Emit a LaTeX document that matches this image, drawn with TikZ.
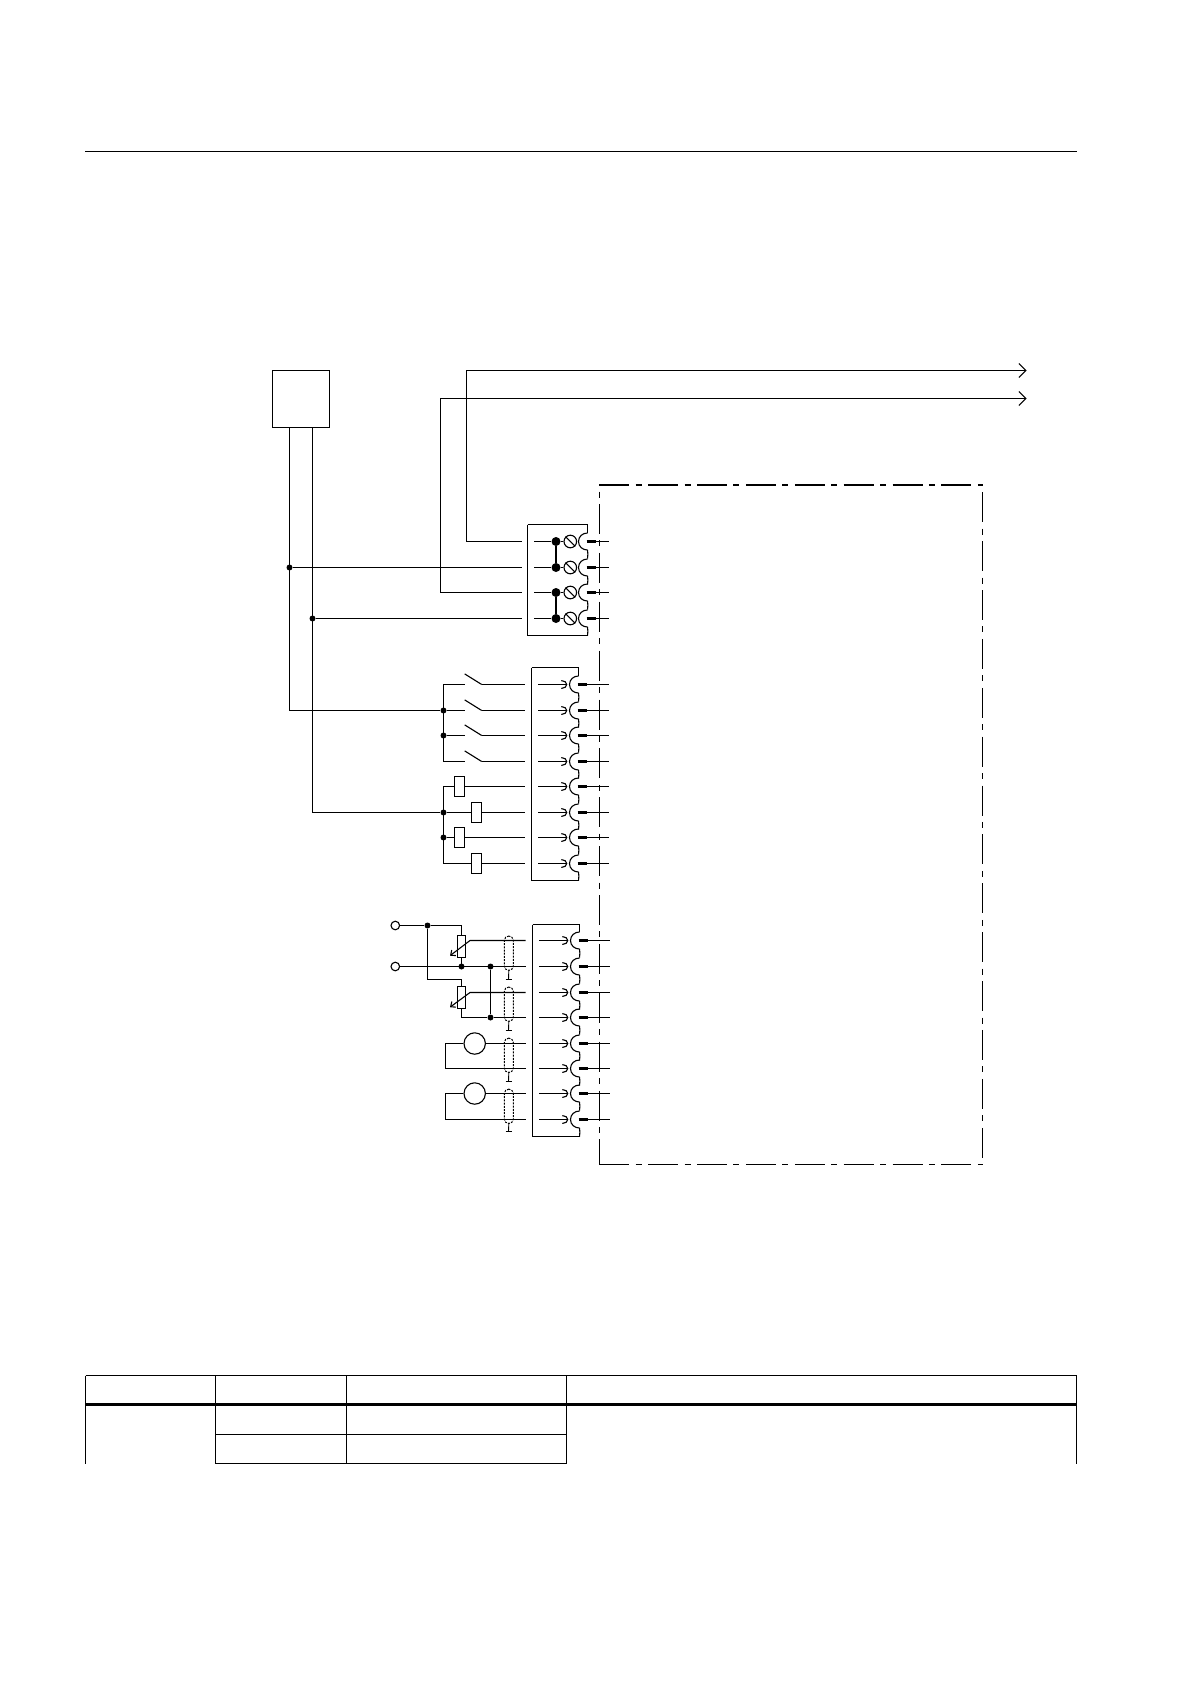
\documentclass[tikz,border=0pt]{standalone}
\usetikzlibrary{arrows.meta,positioning}
\tikzset{
    wire/.style={line width=1.1pt},
    rule/.style={line width=1.4pt},
    heavyrule/.style={line width=3.2pt},
    edge/.style={line width=1.1pt,dash pattern=on 30pt off 6.4pt on 6pt off 6.48pt},
    dot/.style={fill,circle,inner sep=0pt,minimum size=6pt},
    bigdot/.style={fill,circle,inner sep=0pt,minimum size=9pt},
    screw/.style={draw,wire,circle,inner sep=0pt,minimum size=12.6pt},
    port/.style={draw,wire,circle,inner sep=0pt,minimum size=8.6pt},
    source/.style={draw,wire,circle,inner sep=0pt,minimum size=21.4pt},
    relay/.style={draw,wire,rectangle,inner sep=0pt,minimum width=10.4pt,minimum height=20.6pt},
    pot/.style={draw,wire,rectangle,inner sep=0pt,minimum width=8.4pt,minimum height=22.4pt},
    shield/.style={draw,line width=1pt,dash pattern=on 2pt off 1.2pt,rectangle,rounded corners=4.4pt,inner sep=0pt,minimum width=9pt,minimum height=34.3pt},
    supply/.style={draw,wire,rectangle,inner sep=0pt,minimum size=57pt},
    socket/.pic={
        \draw[wire] (0,-8.5) .. controls (-5,-8.5) and (-9,-5) .. (-9,0) .. controls (-9,5) and (-5,8.5) .. (0,8.5);
        \draw[wire] (0,8.5) .. controls (0.5,11) and (0.5,14.5) .. (0,17.1);
        \draw[line width=#1] (-1,0) -- (8,0);
        \coordinate (-stub) at (8,0);
    }
}
\begin{document}
\begin{tikzpicture}[x=1pt,y=-1pt]
    \useasboundingbox (0,0) rectangle (1191,1684);
    \draw[rule] (85,151.5) -- (1077.3,151.5);

    \node[supply] (ps) at (301,399) {};
    \coordinate (pl) at (289.5,427.5);
    \coordinate (pr) at (312.5,427.5);
    \coordinate (cn0) at (466.5,541.5);
    \coordinate (cn1) at (466.5,370.5);
    \coordinate (cn2) at (440.5,592.5);
    \coordinate (cn3) at (440.5,398.5);
    \coordinate (tr1) at (1026.7,370.5);
    \coordinate (tr2) at (1026.7,398.5);

    \draw[edge,line width=2pt] (599.3,485) -- (983,485);
    \draw[edge,dash phase=36.4pt] (599.5,491.5) -- (599.5,1164.5);
    \draw[edge] (599.3,1164.5) -- (983,1164.5);
    \draw[edge] (982.5,492.3) -- (982.5,1157.7);

    \foreach \n/\y/\w in {1/541.5/3.4pt,2/567.5/2.3pt,3/592.5/3.4pt,4/618.5/2.3pt}{
        \pic (a\n) at (587.5,\y) {socket=\w};
        \coordinate (ae\n) at (609,\y);
        \draw[wire] (a\n-stub) -- (ae\n);
        \coordinate (al\n) at (521.7,\y);
        \coordinate (ai\n) at (534,\y);
        \node[bigdot] (ad\n) at (556,\y) {};
        \node[screw] (as\n) at (570.3,\y) {};
        \draw[wire] (ai\n) -- (ad\n);
        \draw[wire] (ad\n) -- (as\n);
        \draw[wire] (as\n.north west) -- (as\n.south east);
    }
    \draw[wire] (527.5,524.5) -- (587.5,524.5) -- (587.5,533);
    \draw[wire] (527.5,524.5) -- (527.5,635.5) -- (587.5,635.5);
    \draw[line width=1.8pt] (ad1) -- (ad2);
    \draw[line width=1.8pt] (ad3) -- (ad4);

    \node[dot] (ja) at (289.5,567.5) {};
    \node[dot] (jb) at (312.5,618.5) {};
    \draw[wire,-{Straight Barb[length=7pt,width=14pt]}] (al1) -- (cn0) -- (cn1) -- (tr1);
    \draw[wire,-{Straight Barb[length=7pt,width=14pt]}] (al3) -- (cn2) -- (cn3) -- (tr2);
    \draw[wire] (ja) -- (al2);
    \draw[wire] (jb) -- (al4);

    \foreach \n/\y/\w in {1/684.5/2.3pt,2/710.5/2.3pt,3/735.5/2.3pt,4/761.5/2.3pt,5/786.5/3.4pt,6/812.5/2.3pt,7/837.5/3.4pt,8/863.5/2.3pt}{
        \pic (b\n) at (578.5,\y) {socket=\w};
        \coordinate (be\n) at (609,\y);
        \draw[wire] (b\n-stub) -- (be\n);
        \coordinate (bl\n) at (524.7,\y);
        \coordinate (bi\n) at (538.3,\y);
        \coordinate (bt\n) at (567.3,\y);
        \draw[wire,-{Arc Barb[length=6pt,width=9pt]}] (bi\n) -- (bt\n);
    }
    \draw[wire] (531.5,667.5) -- (578.5,667.5) -- (578.5,676);
    \draw[wire] (531.5,667.5) -- (531.5,880.5) -- (578.5,880.5);

    \foreach \n/\y in {1/684.5,2/710.5,3/735.5,4/761.5}{
        \coordinate (sw\n) at (464.7,\y);
        \coordinate (sx\n) at (481.7,\y);
        \coordinate (sb\n) at (464.7,\y-10.6);
        \draw[wire] (sb\n) -- (sx\n);
        \draw[wire] (sx\n) -- (bl\n);
    }
    \node[dot] (db1) at (443.5,710.5) {};
    \node[dot] (db2) at (443.5,735.5) {};
    \node[dot] (db3) at (443.5,812.5) {};
    \node[dot] (db4) at (443.5,837.5) {};
    \coordinate (bu1) at (443.5,684.5);
    \coordinate (bu2) at (443.5,761.5);
    \coordinate (bu3) at (443.5,786.5);
    \coordinate (bu4) at (443.5,863.5);
    \draw[wire] (sw1) -- (bu1) -- (bu2) -- (sw4);
    \draw[wire] (db1) -- (sw2);
    \draw[wire] (db2) -- (sw3);

    \node[relay] (rl1) at (459.5,786.5) {};
    \node[relay] (rl2) at (476.5,812.5) {};
    \node[relay] (rl3) at (459.5,837.5) {};
    \node[relay] (rl4) at (476.5,863.5) {};
    \draw[wire] (rl1) -- (bu3) -- (bu4) -- (rl4);
    \draw[wire] (db3) -- (rl2);
    \draw[wire] (db4) -- (rl3);
    \foreach \n/\m in {1/5,2/6,3/7,4/8}{
        \draw[wire] (rl\n) -- (bl\m);
    }
    \draw[wire] (pl) |- (db1);
    \draw[wire] (pr) |- (db3);

    \foreach \n/\y/\w in {1/940.5/3.4pt,2/966.5/2.3pt,3/992.5/3.4pt,4/1017.5/2.3pt,5/1043.5/2.3pt,6/1068.5/3.4pt,7/1093.5/2.3pt,8/1119.5/3.4pt}{
        \pic (c\n) at (579.5,\y) {socket=\w};
        \coordinate (ce\n) at (610,\y);
        \draw[wire] (c\n-stub) -- (ce\n);
        \coordinate (cl\n) at (525.7,\y);
        \coordinate (ci\n) at (539,\y);
        \coordinate (ct\n) at (568.3,\y);
        \draw[wire,-{Arc Barb[length=6pt,width=9pt]}] (ci\n) -- (ct\n);
    }
    \draw[wire] (532.5,924.5) -- (579.5,924.5) -- (579.5,932);
    \draw[wire] (532.5,924.5) -- (532.5,1136.5) -- (579.5,1136.5);

    \node[port] (ta) at (395.3,925.5) {};
    \node[port] (tb) at (395.3,966.5) {};
    \node[dot] (dc1) at (427.5,925.5) {};
    \node[dot] (dc2) at (461.5,966.5) {};
    \node[dot] (dc3) at (490.5,966.5) {};
    \node[dot] (dc4) at (490.5,1017.5) {};
    \node[pot] (pt1) at (461.5,946.5) {};
    \node[pot] (pt2) at (461.5,997.5) {};
    \coordinate (kn) at (427.5,979.5);
    \coordinate (pk1) at (470,940.5);
    \coordinate (pk2) at (470,992.5);
    \coordinate (pa1) at (450,955.7);
    \coordinate (pa2) at (450,1007.2);
    \draw[wire] (ta) -- (dc1);
    \draw[wire] (dc1) -| (pt1.north);
    \draw[wire] (pt1.south) -- (pt1.south |- dc2);
    \draw[wire] (dc1) -- (kn) -| (pt2.north);
    \draw[wire] (pt2.south) |- (dc4);
    \draw[wire] (tb) -- (cl2);
    \draw[wire] (dc3) -- (dc4);
    \draw[wire] (dc4) -- (cl4);
    \draw[wire,-{Straight Barb[length=4pt,width=7pt]}] (cl1) -- (pk1) -- (pa1);
    \draw[wire,-{Straight Barb[length=4pt,width=7pt]}] (cl3) -- (pk2) -- (pa2);

    \node[source] (sg1) at (474.7,1043.5) {};
    \node[source] (sg2) at (474.7,1093.5) {};
    \coordinate (cr1) at (445.5,1043.5);
    \coordinate (cr2) at (445.5,1093.5);
    \draw[wire] (sg1) -- (cr1) |- (cl6);
    \draw[wire] (sg1) -- (cl5);
    \draw[wire] (sg2) -- (cr2) |- (cl8);
    \draw[wire] (sg2) -- (cl7);

    \foreach \n/\y/\f in {1/953.2/979.5,2/1004.2/1030.5,3/1055.3/1081.5,4/1106.3/1131.5}{
        \node[shield] (sh\n) at (508.8,\y) {};
        \coordinate (gd\n) at (508.5,\f);
        \draw[line width=0.9pt] (sh\n.south) -- (gd\n);
        \draw[line width=0.9pt] (505.5,\f) -- (511.5,\f);
    }

    \draw[rule] (85.5,1375.5) -- (1076.5,1375.5);
    \draw[heavyrule] (85.5,1404.5) -- (1076.5,1404.5);
    \draw[rule] (215.5,1434.5) -- (566.5,1434.5);
    \draw[rule] (215.5,1463.5) -- (566.5,1463.5);
    \draw[rule] (85.5,1375.5) -- (85.5,1464);
    \draw[rule] (215.5,1375.5) -- (215.5,1464);
    \draw[rule] (346.5,1375.5) -- (346.5,1464);
    \draw[rule] (566.5,1375.5) -- (566.5,1464);
    \draw[rule] (1076.5,1375.5) -- (1076.5,1464);
\end{tikzpicture}
\end{document}
